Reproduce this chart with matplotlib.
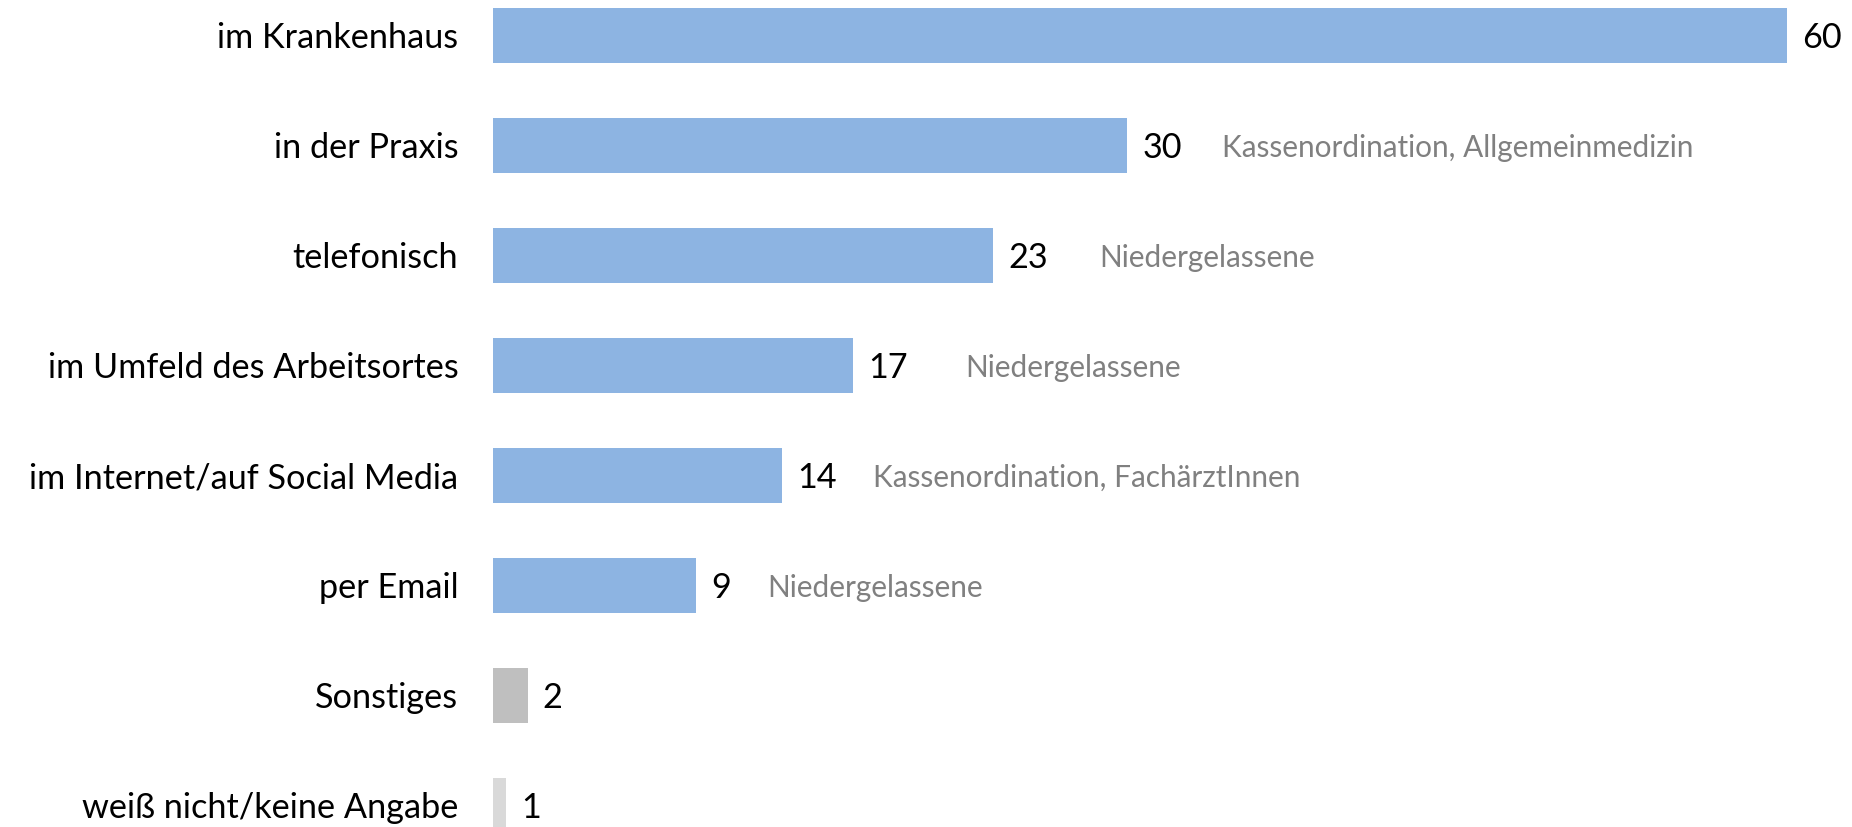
import numpy as np
import matplotlib
matplotlib.use("Agg")
import matplotlib.pyplot as plt

plt.rcParams['font.family'] = ['Lato', 'DejaVu Sans']

categories = ['im Krankenhaus', 'in der Praxis', 'telefonisch',
              'im Umfeld des Arbeitsortes', 'im Internet/auf Social Media',
              'per Email', 'Sonstiges', 'weiß nicht/keine Angabe']
values = [60.0, 29.4, 23.2, 16.7, 13.4, 9.4, 1.6, 0.6]
value_labels = ['60', '30', '23', '17', '14', '9', '2', '1']
notes = ['', 'Kassenordination, Allgemeinmedizin', 'Niedergelassene',
         'Niedergelassene', 'Kassenordination, FachärztInnen',
         'Niedergelassene', '', '']
note_x = [0, 33.8, 28.1, 21.9, 17.6, 12.7, 0, 0]

bar_colors = ['#8DB4E2'] * 6 + ['#BFBFBF', '#D9D9D9']

W, H = 1852, 827
fig = plt.figure(figsize=(W / 100, H / 100), dpi=100)
ax = fig.add_axes([493 / W, 0, (1786.8 - 493) / W, 1])

y = np.arange(len(categories))
ax.barh(y, values, height=0.5, color=bar_colors, edgecolor='none')

ax.set_xlim(0, 60)
ax.set_ylim((H - 35) / 110, -35 / 110)

ax.set_yticks(y)
ax.set_yticklabels(categories, fontsize=24.7, color='black')
ax.tick_params(axis='y', length=0, pad=25)
ax.set_xticks([])
for s in ax.spines.values():
    s.set_visible(False)

for yi, v, lab in zip(y, values, value_labels):
    ax.annotate(lab, (v, yi), xytext=(11, 0), textcoords='offset points',
                ha='left', va='center_baseline', fontsize=24.7, color='black')

for yi, n, nx in zip(y, notes, note_x):
    if n:
        ax.text(nx, yi, n, ha='left', va='center_baseline', fontsize=21.4,
                color='#808080')

fig.savefig('out.png', dpi=100)
